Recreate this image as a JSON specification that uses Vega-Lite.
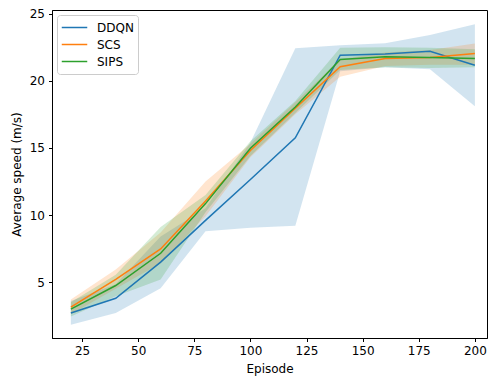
{
  "$schema": "https://vega.github.io/schema/vega-lite/v6.json",
  "width": 435,
  "height": 328,
  "autosize": {"type": "none"},
  "padding": {"left": 52, "top": 10, "right": 3, "bottom": 40},
  "background": "white",
  "config": {
    "font": "DejaVu Sans",
    "view": {"stroke": "black", "strokeWidth": 1},
    "axis": {
      "grid": false,
      "domainColor": "black",
      "tickColor": "black",
      "tickSize": 3.5,
      "labelFontSize": 12,
      "labelColor": "black",
      "labelPadding": 4,
      "titleFontSize": 12,
      "titleFontWeight": "normal",
      "titleColor": "black"
    }
  },
  "data": {
    "values": [
      {"episode": 20, "method": "DDQN", "mean": 2.70, "lo": 1.83, "hi": 3.60},
      {"episode": 40, "method": "DDQN", "mean": 3.80, "lo": 2.70, "hi": 4.85},
      {"episode": 60, "method": "DDQN", "mean": 6.49, "lo": 4.55, "hi": 8.40},
      {"episode": 80, "method": "DDQN", "mean": 9.60, "lo": 8.80, "hi": 10.50},
      {"episode": 100, "method": "DDQN", "mean": 12.65, "lo": 9.05, "hi": 15.40},
      {"episode": 120, "method": "DDQN", "mean": 15.75, "lo": 9.20, "hi": 22.42},
      {"episode": 140, "method": "DDQN", "mean": 21.90, "lo": 20.70, "hi": 22.65},
      {"episode": 160, "method": "DDQN", "mean": 22.00, "lo": 21.00, "hi": 22.80},
      {"episode": 180, "method": "DDQN", "mean": 22.20, "lo": 20.85, "hi": 23.40},
      {"episode": 200, "method": "DDQN", "mean": 21.15, "lo": 18.10, "hi": 24.20},

      {"episode": 20, "method": "SCS", "mean": 3.14, "lo": 2.60, "hi": 3.70},
      {"episode": 40, "method": "SCS", "mean": 5.20, "lo": 4.50, "hi": 5.95},
      {"episode": 60, "method": "SCS", "mean": 7.47, "lo": 6.40, "hi": 8.70},
      {"episode": 80, "method": "SCS", "mean": 11.05, "lo": 9.90, "hi": 12.50},
      {"episode": 100, "method": "SCS", "mean": 14.80, "lo": 14.30, "hi": 15.30},
      {"episode": 120, "method": "SCS", "mean": 17.95, "lo": 17.50, "hi": 18.40},
      {"episode": 140, "method": "SCS", "mean": 21.05, "lo": 20.30, "hi": 21.60},
      {"episode": 160, "method": "SCS", "mean": 21.65, "lo": 21.10, "hi": 22.10},
      {"episode": 180, "method": "SCS", "mean": 21.73, "lo": 21.20, "hi": 22.30},
      {"episode": 200, "method": "SCS", "mean": 22.03, "lo": 21.20, "hi": 22.77},

      {"episode": 20, "method": "SIPS", "mean": 2.99, "lo": 2.45, "hi": 3.50},
      {"episode": 40, "method": "SIPS", "mean": 4.75, "lo": 3.95, "hi": 5.55},
      {"episode": 60, "method": "SIPS", "mean": 7.15, "lo": 5.20, "hi": 9.10},
      {"episode": 80, "method": "SIPS", "mean": 10.85, "lo": 10.20, "hi": 11.50},
      {"episode": 100, "method": "SIPS", "mean": 14.97, "lo": 14.40, "hi": 15.50},
      {"episode": 120, "method": "SIPS", "mean": 18.05, "lo": 17.60, "hi": 18.50},
      {"episode": 140, "method": "SIPS", "mean": 21.58, "lo": 20.80, "hi": 22.45},
      {"episode": 160, "method": "SIPS", "mean": 21.78, "lo": 21.00, "hi": 22.50},
      {"episode": 180, "method": "SIPS", "mean": 21.73, "lo": 20.95, "hi": 22.45},
      {"episode": 200, "method": "SIPS", "mean": 21.65, "lo": 21.00, "hi": 22.35}
    ]
  },
  "encoding": {
    "x": {
      "field": "episode",
      "type": "quantitative",
      "scale": {"domain": [11.6, 205.4], "nice": false, "zero": false},
      "axis": {"title": "Episode", "values": [25, 50, 75, 100, 125, 150, 175, 200], "titlePadding": 7}
    }
  },
  "layer": [
    {
      "mark": {"type": "area", "opacity": 0.2},
      "encoding": {
        "y": {"field": "lo", "type": "quantitative"},
        "y2": {"field": "hi"},
        "fill": {
          "field": "method",
          "type": "nominal",
          "scale": {"domain": ["SIPS", "SCS", "DDQN"], "range": ["#2ca02c", "#ff7f0e", "#1f77b4"]},
          "legend": null
        }
      }
    },
    {
      "mark": {"type": "line", "strokeWidth": 1.5},
      "encoding": {
        "y": {
          "field": "mean",
          "type": "quantitative",
          "scale": {"domain": [0.84, 25.27], "nice": false, "zero": false},
          "axis": {"title": "Average speed (m/s)", "values": [5, 10, 15, 20, 25], "titlePadding": 6}
        },
        "stroke": {
          "field": "method",
          "type": "nominal",
          "scale": {"domain": ["DDQN", "SCS", "SIPS"], "range": ["#1f77b4", "#ff7f0e", "#2ca02c"]},
          "legend": {
            "title": null,
            "orient": "none",
            "legendX": 5,
            "legendY": 5,
            "symbolType": "stroke",
            "symbolSize": 650,
            "symbolStrokeWidth": 1.5,
            "labelFontSize": 12,
            "labelColor": "black",
            "labelOffset": 9,
            "rowPadding": 0,
            "clipHeight": 17,
            "padding": 4,
            "strokeColor": "#cccccc",
            "fillColor": "rgba(255,255,255,0.8)",
            "cornerRadius": 3
          }
        }
      }
    }
  ]
}
